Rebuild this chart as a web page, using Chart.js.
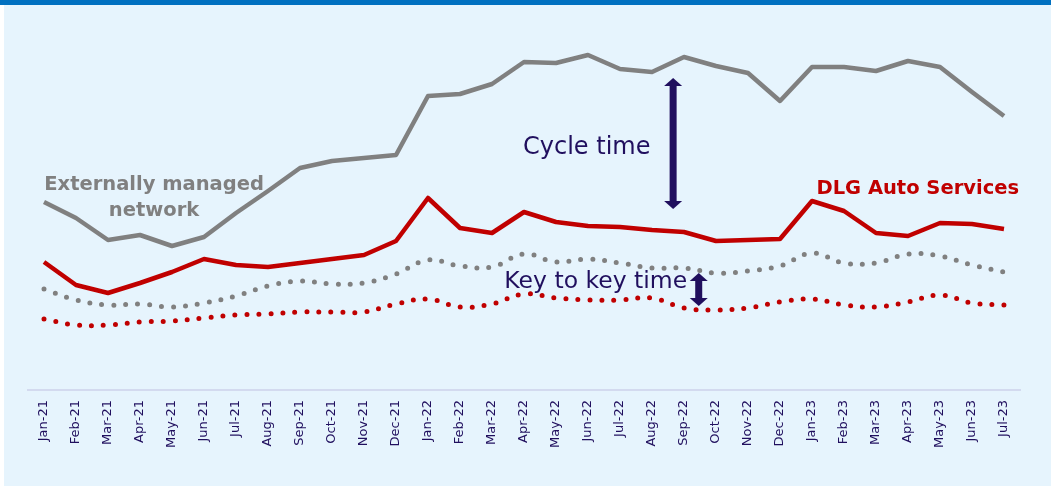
<!DOCTYPE html>
<html>
<head>
<meta charset="utf-8">
<script src="https://cdn.jsdelivr.net/npm/chart.js@4/dist/chart.umd.min.js"></script>
<style>
    html, body { margin: 0; padding: 0; background: #ffffff; }
    #wrap { position: relative; width: 1051px; height: 486px; }
</style>
</head>
<body>
<div id="wrap"><canvas id="cycle_chart" width="1051" height="486"></canvas></div>
<script>
'use strict';

const months = ['Jan-21', 'Feb-21', 'Mar-21', 'Apr-21', 'May-21', 'Jun-21', 'Jul-21', 'Aug-21',
    'Sep-21', 'Oct-21', 'Nov-21', 'Dec-21', 'Jan-22', 'Feb-22', 'Mar-22', 'Apr-22', 'May-22',
    'Jun-22', 'Jul-22', 'Aug-22', 'Sep-22', 'Oct-22', 'Nov-22', 'Dec-22', 'Jan-23', 'Feb-23',
    'Mar-23', 'Apr-23', 'May-23', 'Jun-23', 'Jul-23'];

// cycle time (days, estimated)
const externalCycle = [18.8, 17.2, 15.0, 15.5, 14.4, 15.3, 17.7, 19.9, 22.2, 22.9, 23.2, 23.5,
    29.4, 29.6, 30.6, 32.8, 32.7, 33.5, 32.1, 31.8, 33.3, 32.4, 31.7, 28.9, 32.3, 32.3, 31.9,
    32.9, 32.3, 29.8, 27.4];
const dlgCycle = [12.8, 10.5, 9.7, 10.7, 11.8, 13.1, 12.5, 12.3, 12.7, 13.1, 13.5, 14.9,
    19.2, 16.2, 15.7, 17.8, 16.8, 16.4, 16.3, 16.0, 15.8, 14.9, 15.0, 15.1, 18.9, 17.9, 15.7,
    15.4, 16.7, 16.6, 16.1];

// key to key time (days, estimated)
const externalKey = [10.1, 9.0, 8.5, 8.6, 8.3, 8.7, 9.4, 10.4, 10.9, 10.6, 10.7, 11.6,
    13.0, 12.4, 12.3, 13.6, 12.8, 13.1, 12.7, 12.2, 12.2, 11.7, 11.9, 12.4, 13.7, 12.7, 12.7,
    13.6, 13.4, 12.5, 11.8];
const dlgKey = [7.1, 6.5, 6.5, 6.8, 6.9, 7.2, 7.5, 7.6, 7.8, 7.8, 7.8, 8.6,
    9.1, 8.3, 8.6, 9.6, 9.2, 9.0, 9.0, 9.2, 8.2, 8.0, 8.2, 8.8, 9.1, 8.5, 8.3,
    8.8, 9.5, 8.7, 8.5];

const GREY = '#808080';
const RED = '#c00000';
const NAVY = '#200f5e';
const FONT = '"DejaVu Sans", sans-serif';

// labels and arrows, placed in data units (category index, days)
const notes = [
    { text: 'Externally managed', x: 3.44, y: 20.5, color: GREY, font: '600 19.5px ' + FONT, align: 'center' },
    { text: 'network', x: 3.44, y: 17.9, color: GREY, font: '600 19.5px ' + FONT, align: 'center' },
    { text: 'DLG Auto Services', x: 30.47, y: 20.1, color: RED, font: '600 19.5px ' + FONT, align: 'right' },
    { text: 'Cycle time', x: 16.96, y: 24.2, color: NAVY, font: '24px ' + FONT, align: 'center' },
    { text: 'Key to key time', x: 20.1, y: 10.8, color: NAVY, font: '23.5px ' + FONT, align: 'right' },
];
const arrows = [
    { x: 19.66, from: 31.2, to: 18.1 },
    { x: 20.46, from: 11.7, to: 8.4 },
];

const backdrop = {
    id: 'backdrop',
    beforeDraw(chart) {
        const c = chart.ctx;
        c.save();
        c.fillStyle = '#ffffff';
        c.fillRect(0, 0, chart.width, chart.height);
        c.fillStyle = '#e6f4fd';
        c.fillRect(4, 0, chart.width - 4, chart.height);
        c.fillStyle = '#0070c0';
        c.fillRect(0, 0, chart.width, 5);
        c.restore();
    },
};

function drawArrow(c, x, y1, y2) {
    const head = 8;
    const half = 9;
    c.fillStyle = NAVY;
    c.fillRect(x - 3.5, y1 + head - 1, 7, y2 - y1 - 2 * head + 2);
    c.beginPath();
    c.moveTo(x, y1);
    c.lineTo(x + half, y1 + head);
    c.lineTo(x - half, y1 + head);
    c.closePath();
    c.fill();
    c.beginPath();
    c.moveTo(x, y2);
    c.lineTo(x + half, y2 - head);
    c.lineTo(x - half, y2 - head);
    c.closePath();
    c.fill();
}

const annotations = {
    id: 'annotations',
    afterDatasetsDraw(chart) {
        const c = chart.ctx;
        const xs = chart.scales.x;
        const ys = chart.scales.y;
        c.save();
        c.textBaseline = 'middle';
        notes.forEach(n => {
            c.font = n.font;
            c.fillStyle = n.color;
            c.textAlign = n.align;
            c.fillText(n.text, xs.getPixelForValue(n.x), ys.getPixelForValue(n.y));
        });
        arrows.forEach(a => {
            drawArrow(c, xs.getPixelForValue(a.x), ys.getPixelForValue(a.from), ys.getPixelForValue(a.to));
        });
        c.restore();
    },
};

const solid = (data, color) => ({
    data: data,
    borderColor: color,
    backgroundColor: color,
    borderWidth: 4.5,
    pointRadius: 0,
    fill: false,
    tension: 0,
    borderJoinStyle: 'round',
});
const dotted = (data, color) => ({
    data: data,
    borderColor: color,
    backgroundColor: color,
    borderWidth: 5,
    borderDash: [0, 12],
    borderCapStyle: 'round',
    pointRadius: 0,
    fill: false,
    tension: 0.4,
});

const ctx = document.getElementById('cycle_chart').getContext('2d');
new Chart(ctx, {
    type: 'line',
    data: {
        labels: months,
        datasets: [
            solid(externalCycle, GREY),
            solid(dlgCycle, RED),
            dotted(externalKey, GREY),
            dotted(dlgKey, RED),
        ],
    },
    options: {
        responsive: false,
        animation: false,
        layout: {
            padding: { left: 28, right: 31, top: 20, bottom: 0 },
        },
        plugins: {
            legend: { display: false },
            tooltip: { enabled: false },
        },
        scales: {
            x: {
                offset: true,
                grid: { display: false, drawTicks: false },
                border: { display: true, color: '#d3daef', width: 2 },
                ticks: {
                    autoSkip: false,
                    minRotation: 90,
                    maxRotation: 90,
                    padding: 10,
                    color: NAVY,
                    font: { family: FONT, size: 13 },
                },
                afterFit: function (scale) {
                    scale.height = 96;
                },
            },
            y: {
                display: false,
                min: 0,
                max: 37,
            },
        },
    },
    plugins: [backdrop, annotations],
});
</script>
</body>
</html>
